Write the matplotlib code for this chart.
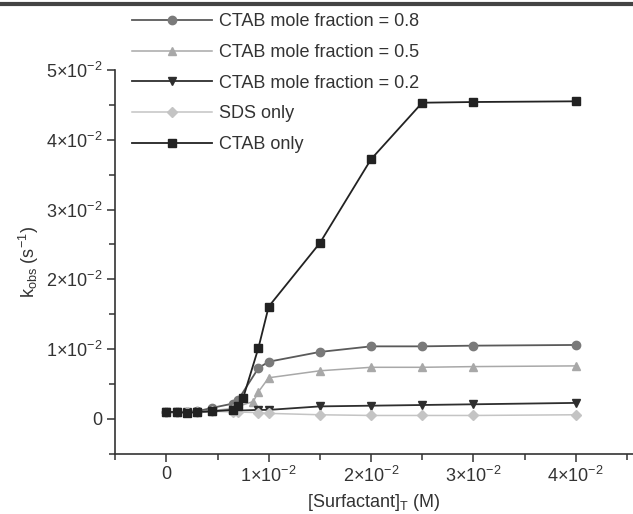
import matplotlib
matplotlib.use('Agg')
import matplotlib.pyplot as plt
from matplotlib.ticker import FixedLocator
from matplotlib.lines import Line2D

plt.rcParams['font.family'] = ['Liberation Sans', 'DejaVu Sans']
plt.rcParams['mathtext.fontset'] = 'custom'
plt.rcParams['mathtext.rm'] = 'Liberation Sans'
plt.rcParams['mathtext.it'] = 'Liberation Sans:italic'
plt.rcParams['mathtext.bf'] = 'Liberation Sans:bold'

# data
x_08 = [0, 0.001, 0.002, 0.003, 0.0045, 0.0065, 0.007, 0.009, 0.010, 0.015, 0.020, 0.025, 0.030, 0.040]
k_08 = [0.0010, 0.0010, 0.0010, 0.0011, 0.0016, 0.0022, 0.0027, 0.0073, 0.0082, 0.0096, 0.0104, 0.0104, 0.0105, 0.0106]

x_05 = [0, 0.001, 0.002, 0.003, 0.0045, 0.0065, 0.007, 0.0085, 0.009, 0.010, 0.015, 0.020, 0.025, 0.030, 0.040]
k_05 = [0.0010, 0.0010, 0.0010, 0.0010, 0.0012, 0.0015, 0.0018, 0.0025, 0.0039, 0.0059, 0.0069, 0.0074, 0.0074, 0.0075, 0.0076]

x_02 = [0, 0.001, 0.002, 0.003, 0.0045, 0.0065, 0.007, 0.009, 0.010, 0.015, 0.020, 0.025, 0.030, 0.040]
k_02 = [0.0010, 0.0010, 0.0010, 0.0010, 0.0011, 0.0012, 0.0012, 0.0013, 0.0013, 0.0018, 0.0019, 0.0020, 0.0021, 0.0023]

x_sds = [0, 0.001, 0.002, 0.003, 0.0045, 0.0065, 0.007, 0.009, 0.010, 0.015, 0.020, 0.025, 0.030, 0.040]
k_sds = [0.0010, 0.0010, 0.0010, 0.0010, 0.0011, 0.0010, 0.0010, 0.0009, 0.0008, 0.0006, 0.0005, 0.0005, 0.0005, 0.0006]

x_ctab = [0, 0.001, 0.002, 0.003, 0.0045, 0.0065, 0.007, 0.0075, 0.009, 0.010, 0.015, 0.020, 0.025, 0.030, 0.040]
k_ctab = [0.0010, 0.0010, 0.0009, 0.0010, 0.0011, 0.0013, 0.0018, 0.0030, 0.0102, 0.0161, 0.0252, 0.0372, 0.0453, 0.0454, 0.0455]

labels = ['CTAB mole fraction = 0.8', 'CTAB mole fraction = 0.5',
          'CTAB mole fraction = 0.2', 'SDS only', 'CTAB only']

xticks = [0, 0.01, 0.02, 0.03, 0.04]
xtick_labels = ['0', r'$1{\times}10^{-2}$', r'$2{\times}10^{-2}$', r'$3{\times}10^{-2}$', r'$4{\times}10^{-2}$']
yticks = [0, 0.01, 0.02, 0.03, 0.04, 0.05]
ytick_labels = ['0', r'$1{\times}10^{-2}$', r'$2{\times}10^{-2}$', r'$3{\times}10^{-2}$',
                r'$4{\times}10^{-2}$', r'$5{\times}10^{-2}$']

fig = plt.figure(figsize=(6.33, 5.14), dpi=100)
ax = fig.add_axes([0.182, 0.117, 0.818, 0.747])

ax.plot(x_08, k_08, '-o', color='#5a5a5a', mfc='#7a7a7a', mec='#7a7a7a', ms=6, lw=1.3, label=labels[0])
ax.plot(x_05, k_05, '-^', color='#a8a8a8', mfc='#a8a8a8', mec='#a8a8a8', ms=6, lw=1.1, label=labels[1])
ax.plot(x_02, k_02, '-v', color='#2e2e2e', mfc='#2e2e2e', mec='#2e2e2e', ms=6, lw=1.3, label=labels[2])
ax.plot(x_sds, k_sds, '-D', color='#c4c4c4', mfc='#c4c4c4', mec='#c4c4c4', ms=5, lw=1.1, label=labels[3])
ax.plot(x_ctab, k_ctab, '-s', color='#222222', mfc='#222222', mec='#222222', ms=5.5, lw=1.3, label=labels[4])

ax.set_xlim(-0.005, 0.0456)
ax.set_ylim(-0.005, 0.05)
ax.spines['top'].set_visible(False)
ax.spines['right'].set_visible(False)
for s in ['left', 'bottom']:
    ax.spines[s].set_color('#333333')
    ax.spines[s].set_linewidth(1.2)

ax.set_xticks(xticks)
ax.set_xticklabels(xtick_labels)
ax.set_yticks(yticks)
ax.set_yticklabels(ytick_labels)
ax.xaxis.set_minor_locator(FixedLocator([-0.005, 0.005, 0.015, 0.025, 0.035, 0.045]))
ax.yaxis.set_minor_locator(FixedLocator([-0.005, 0.005, 0.015, 0.025, 0.035, 0.045]))
ax.tick_params(which='major', direction='out', length=6, width=1.1, color='#333333',
               labelsize=13, labelcolor='#333333')
ax.tick_params(which='minor', direction='out', length=4, width=1.1, color='#333333')
ax.tick_params(axis='x', pad=3)
ax.tick_params(axis='y', pad=3)

ax.set_xlabel(r'[Surfactant]$_\mathrm{T}$ (M)', fontsize=13, color='#333333', labelpad=4)
ax.set_ylabel(r'k$_\mathrm{obs}$ (s$^{-1}$)', fontsize=13, color='#333333', labelpad=4)

fig.legend(loc='upper left', bbox_to_anchor=(0.183, 1.006), frameon=False,
           fontsize=13, handlelength=4.4, handletextpad=0.4, labelspacing=0.76,
           labelcolor='#333333')

# dark border line along the top of the scan
fig.add_artist(Line2D([0, 1], [0.993, 0.993], color='#444444', lw=3))

fig.savefig('out.png', dpi=100)
